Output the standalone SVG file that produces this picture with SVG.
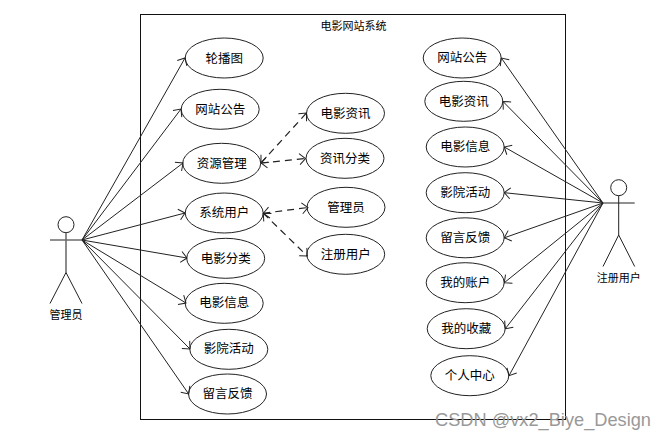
<svg xmlns="http://www.w3.org/2000/svg" width="666" height="439" viewBox="0 0 666 439">
<style>
text{font-family:"Noto Sans CJK SC","Liberation Sans",sans-serif;fill:#000;text-anchor:middle}
.uc ellipse{fill:#fff;stroke:#222;stroke-width:1}
.uc text{font-size:12.5px}
.small{font-size:11px}
.l{fill:none;stroke:#222;stroke-width:1;marker-end:url(#e)}
.d{stroke-width:1.2;stroke-dasharray:7 5;marker-start:url(#s)}
.a line,.a path{fill:none;stroke:#222;stroke-width:1}
</style>
<defs>
<marker id="e" markerUnits="userSpaceOnUse" markerWidth="14" markerHeight="14" refX="9" refY="7" orient="auto"><path d="M3 1.5L9 7L3 12.5" fill="none" stroke="#222"/></marker>
<marker id="s" markerUnits="userSpaceOnUse" markerWidth="14" markerHeight="14" refX="5" refY="7" orient="auto"><path d="M11 1.5L5 7L11 12.5" fill="none" stroke="#222"/></marker>
</defs>
<rect id="system" x="140.5" y="14.5" width="425" height="405" fill="#fff" stroke="#111"/>
<text class="small" x="353.5" y="30">电影网站系统</text>
<g id="uc-left-1" class="uc"><ellipse cx="224.2" cy="58" rx="39" ry="20"/><text x="224.2" y="62.5">轮播图</text></g>
<g id="uc-left-2" class="uc"><ellipse cx="220.2" cy="109.3" rx="39" ry="20"/><text x="220.2" y="113.8">网站公告</text></g>
<g id="uc-left-3" class="uc"><ellipse cx="221.7" cy="163.3" rx="39" ry="20"/><text x="221.7" y="167.8">资源管理</text></g>
<g id="uc-left-4" class="uc"><ellipse cx="224.2" cy="213" rx="39" ry="20"/><text x="224.2" y="217">系统用户</text></g>
<g id="uc-left-5" class="uc"><ellipse cx="225.7" cy="258.3" rx="39" ry="20"/><text x="225.7" y="262.8">电影分类</text></g>
<g id="uc-left-6" class="uc"><ellipse cx="224.2" cy="303.3" rx="39" ry="20"/><text x="224.2" y="307.3">电影信息</text></g>
<g id="uc-left-7" class="uc"><ellipse cx="228.8" cy="349.3" rx="39" ry="20"/><text x="228.8" y="353.3">影院活动</text></g>
<g id="uc-left-8" class="uc"><ellipse cx="227.5" cy="394" rx="39" ry="20"/><text x="227.5" y="398">留言反馈</text></g>
<g id="uc-mid-1" class="uc"><ellipse cx="345.5" cy="113.3" rx="39" ry="20"/><text x="345.5" y="117.8">电影资讯</text></g>
<g id="uc-mid-2" class="uc"><ellipse cx="345" cy="158.3" rx="39" ry="20"/><text x="345" y="162.8">资讯分类</text></g>
<g id="uc-mid-3" class="uc"><ellipse cx="346" cy="207.3" rx="39" ry="20"/><text x="346" y="211.8">管理员</text></g>
<g id="uc-mid-4" class="uc"><ellipse cx="345.7" cy="254.3" rx="39" ry="20"/><text x="345.7" y="258.8">注册用户</text></g>
<g id="uc-right-1" class="uc"><ellipse cx="462.2" cy="58" rx="39" ry="20"/><text x="462.2" y="62">网站公告</text></g>
<g id="uc-right-2" class="uc"><ellipse cx="463.8" cy="101.3" rx="39" ry="20"/><text x="463.8" y="105.8">电影资讯</text></g>
<g id="uc-right-3" class="uc"><ellipse cx="465.2" cy="147" rx="39" ry="20"/><text x="465.2" y="151">电影信息</text></g>
<g id="uc-right-4" class="uc"><ellipse cx="465.2" cy="192.7" rx="39" ry="20"/><text x="465.2" y="197">影院活动</text></g>
<g id="uc-right-5" class="uc"><ellipse cx="465.2" cy="237.8" rx="39" ry="20"/><text x="465.2" y="242">留言反馈</text></g>
<g id="uc-right-6" class="uc"><ellipse cx="465.2" cy="282.7" rx="39" ry="20"/><text x="465.2" y="287">我的账户</text></g>
<g id="uc-right-7" class="uc"><ellipse cx="466.2" cy="328.7" rx="39" ry="20"/><text x="466.2" y="333">我的收藏</text></g>
<g id="uc-right-8" class="uc"><ellipse cx="469.8" cy="375.7" rx="39" ry="20"/><text x="469.8" y="380">个人中心</text></g>
<g id="actor-admin" class="a"><circle cx="66" cy="224.7" r="8" fill="#fff" stroke="#222"/><line x1="50" y1="240" x2="82" y2="240"/><line x1="66" y1="232.7" x2="66" y2="272.5" style="stroke:#666;stroke-width:1.5"/><path d="M50 303.5L66 272.5L82 303.5"/><text class="small" x="66" y="319">管理员</text></g>
<g id="actor-user" class="a"><circle cx="618.7" cy="187.7" r="8" fill="#fff" stroke="#222"/><line x1="602.3" y1="203" x2="634.7" y2="203"/><line x1="618.7" y1="195.7" x2="618.7" y2="235"/><path d="M603 266.5L618.7 235L634.7 266.5"/><text class="small" x="618.7" y="282">注册用户</text></g>
<g id="connectors">
<line class="l" x1="82" y1="240" x2="185" y2="58"/>
<line class="l" x1="82" y1="240" x2="181" y2="109"/>
<line class="l" x1="82" y1="240" x2="183" y2="163"/>
<line class="l" x1="82" y1="240" x2="185" y2="213"/>
<line class="l" x1="82" y1="240" x2="187" y2="258"/>
<line class="l" x1="82" y1="240" x2="186" y2="303"/>
<line class="l" x1="82" y1="240" x2="190" y2="349"/>
<line class="l" x1="82" y1="240" x2="188.7" y2="394"/>
<line class="l d" x1="261" y1="163" x2="306.5" y2="113"/>
<line class="l d" x1="261" y1="163" x2="305.5" y2="158.5"/>
<line class="l d" x1="263.3" y1="213.3" x2="308" y2="207.5"/>
<line class="l d" x1="263.3" y1="213.3" x2="307.3" y2="256"/>
<line class="l" x1="603" y1="203" x2="501.3" y2="58"/>
<line class="l" x1="603" y1="203" x2="503" y2="101.5"/>
<line class="l" x1="603" y1="203" x2="504.3" y2="147"/>
<line class="l" x1="603" y1="203" x2="504.3" y2="192.7"/>
<line class="l" x1="603" y1="203" x2="504.3" y2="237.8"/>
<line class="l" x1="603" y1="203" x2="504.3" y2="282.7"/>
<line class="l" x1="603" y1="203" x2="505.3" y2="328.7"/>
<line class="l" x1="603" y1="203" x2="509" y2="375.7"/>
</g>
<text x="543" y="426" textLength="216" lengthAdjust="spacingAndGlyphs" style="font-family:'Liberation Sans',sans-serif;font-size:19px;fill:#999">CSDN @vx2_Biye_Design</text>
</svg>
